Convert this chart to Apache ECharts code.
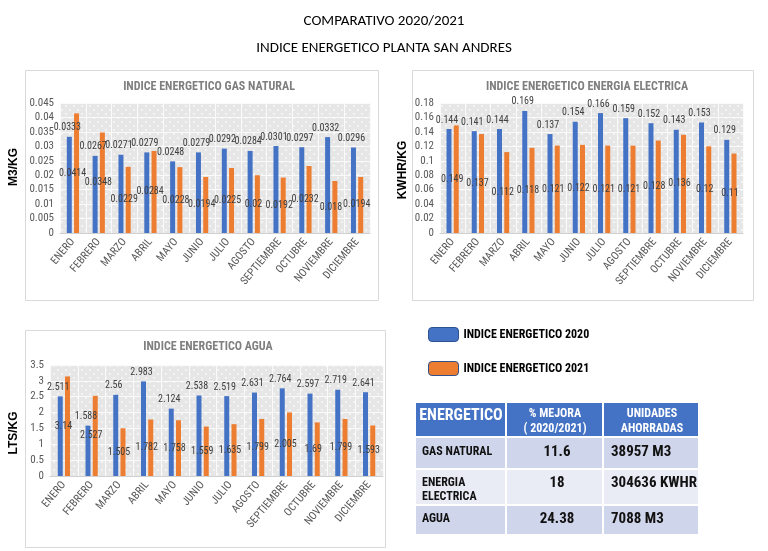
<!DOCTYPE html>
<html><head><meta charset="utf-8">
<script src="https://cdn.jsdelivr.net/npm/echarts@6/dist/echarts.min.js"></script>
<style>html,body{margin:0;padding:0;background:#fff}#c{width:768px;height:551px}</style>
</head><body><div id="c"></div>
<script>
const months = ['ENERO','FEBRERO','MARZO','ABRIL','MAYO','JUNIO','JULIO','AGOSTO','SEPTIEMBRE','OCTUBRE','NOVIEMBRE','DICIEMBRE'];
const gas2020 = [0.0333,0.0267,0.0271,0.0279,0.0248,0.0279,0.0292,0.0284,0.0301,0.0297,0.0332,0.0296];
const gas2021 = [0.0414,0.0348,0.0229,0.0284,0.0228,0.0194,0.0225,0.02,0.0192,0.0232,0.018,0.0194];
const elec2020 = [0.144,0.141,0.144,0.169,0.137,0.154,0.166,0.159,0.152,0.143,0.153,0.129];
const elec2021 = [0.149,0.137,0.112,0.118,0.121,0.122,0.121,0.121,0.128,0.136,0.12,0.11];
const agua2020 = [2.511,1.588,2.56,2.983,2.124,2.538,2.519,2.631,2.764,2.597,2.719,2.641];
const agua2021 = [3.14,2.527,1.505,1.782,1.758,1.559,1.635,1.799,2.005,1.69,1.799,1.593];
const seriesNames = ['INDICE ENERGETICO 2020','INDICE ENERGETICO 2021'];
const tableHeader = ['ENERGETICO','% MEJORA\n( 2020/2021)','UNIDADES\nAHORRADAS'];
const tableEnergetico = ['GAS NATURAL','ENERGIA\nELECTRICA','AGUA'];
const tableMejora = ['11.6','18','24.38'];
const tableAhorro = ['38957 M3','304636 KWHR','7088 M3'];

const NARROW = "'Roboto Condensed','DejaVu Sans Condensed',sans-serif";
const BLUE = '#4472C4', ORANGE = '#ED7D31';

// checkered background pattern
const pc = document.createElement('canvas'); pc.width = 8; pc.height = 8;
const px = pc.getContext('2d');
px.fillStyle = '#E6E6E6'; px.fillRect(0,0,8,8);
px.fillStyle = '#F3F3F3'; px.fillRect(1,1,2,2); px.fillRect(5,5,2,2);
const pattern = {image: pc, repeat: 'repeat'};

const grids = [
  {left:60, top:103, width:310, height:130},
  {left:440, top:103, width:303, height:130},
  {left:50, top:365, width:333, height:111}
].map(g => Object.assign(g, {show:true, backgroundColor: pattern, borderWidth:0, containLabel:false}));

const yCfg = [{max:0.045, interval:0.005},{max:0.18, interval:0.02},{max:3.5, interval:0.5}];
const xAxes = grids.map((g,i) => ({
  type:'category', gridIndex:i, data:months,
  axisLine:{lineStyle:{color:'#D0D0D0'}}, axisTick:{show:false},
  splitLine:{show:true, lineStyle:{color:'#FAFAFA', width:1}},
  axisLabel:{rotate:50, interval:0, color:'#595959', fontSize:11, fontFamily:NARROW, margin:7}
}));
const yAxes = yCfg.map((c,i) => ({
  type:'value', gridIndex:i, min:0, max:c.max, interval:c.interval,
  axisLine:{show:false}, axisTick:{show:false},
  splitLine:{lineStyle:{color:'#FAFAFA', width:1}},
  axisLabel:{color:'#595959', fontSize:11, fontFamily:NARROW, margin:6}
}));

const dataSets = [[gas2020,gas2021],[elec2020,elec2021],[agua2020,agua2021]];
const series = [];
dataSets.forEach((pair,i) => {
  series.push({
    name: seriesNames[0], type:'bar', xAxisIndex:i, yAxisIndex:i, data: pair[0],
    barWidth:5, barGap:'45%', itemStyle:{color:BLUE},
    label:{show:true, position:'top', distance:4, offset:[-2,0], color:'#404040', fontSize:10, fontFamily:NARROW}
  });
  series.push({
    name: seriesNames[1], type:'bar', xAxisIndex:i, yAxisIndex:i, data: pair[1],
    barWidth:5, barGap:'45%', itemStyle:{color:ORANGE},
    label:{show:true, position:'inside', offset:[-4,0], color:'#404040', fontSize:10, fontFamily:NARROW}
  });
});

const graphic = [];
[[25,70,353,230],[412,70,341,230],[25,330,360,217]].forEach(b => {
  graphic.push({type:'rect', shape:{x:b[0]+0.5,y:b[1]+0.5,width:b[2],height:b[3]}, style:{fill:'none', stroke:'#D9D9D9', lineWidth:1}, z:-10});
});
[['M3/KG',14,167],['KWHR/KG',403,170],['LTS/KG',14,433]].forEach(n => {
  graphic.push({type:'text', x:n[1], y:n[2], rotation:Math.PI/2,
    style:{text:n[0], fill:'#000', font:"bold 12px 'Liberation Sans', Arial, sans-serif", textAlign:'center', textVerticalAlign:'middle'}});
});
const tx = [416,507,604,700];
const ty = [403,438,470,506,536];
const rowFill = ['#CFD5EA','#E9EBF5','#CFD5EA'];
for (let c=0;c<3;c++){
  graphic.push({type:'rect', shape:{x:tx[c],y:ty[0],width:tx[c+1]-tx[c]-2,height:ty[1]-ty[0]-2}, style:{fill:BLUE}});
  for (let r=0;r<3;r++){
    graphic.push({type:'rect', shape:{x:tx[c],y:ty[r+1],width:tx[c+1]-tx[c]-2,height:ty[r+2]-ty[r+1]-2}, style:{fill:rowFill[r]}});
  }
}
const BOLD = "bold 15px " + NARROW;
const BOLDS = "bold 12px " + NARROW;
graphic.push({type:'text', x:461, y:416, style:{text:tableHeader[0], fill:'#fff', font:"bold 16px "+NARROW, textAlign:'center', textVerticalAlign:'middle'}});
graphic.push({type:'text', x:555, y:421, style:{text:tableHeader[1], fill:'#fff', font:BOLDS, textAlign:'center', textVerticalAlign:'middle', lineHeight:15}});
graphic.push({type:'text', x:652, y:421, style:{text:tableHeader[2], fill:'#fff', font:BOLDS, textAlign:'center', textVerticalAlign:'middle', lineHeight:15}});
const rowY = [452,483,519];
for (let r=0;r<3;r++){
  const multi = tableEnergetico[r].indexOf('\n')>=0;
  graphic.push({type:'text', x:422, y: multi? 490: rowY[r], style:{text:tableEnergetico[r], fill:'#111', font:BOLDS, textAlign:'left', textVerticalAlign:'middle', lineHeight:14}});
  graphic.push({type:'text', x:557, y:rowY[r], style:{text:tableMejora[r], fill:'#111', font:BOLD, textAlign:'center', textVerticalAlign:'middle'}});
  graphic.push({type:'text', x:611, y:rowY[r], style:{text:tableAhorro[r], fill:'#111', font:BOLD, textAlign:'left', textVerticalAlign:'middle'}});
}

const chart = echarts.init(document.getElementById('c'), null, {renderer:'canvas'});
chart.setOption({
  animation:false,
  backgroundColor:'#fff',
  title:[
    {text:'COMPARATIVO 2020/2021', left:'center', top:9, textStyle:{fontSize:15, fontWeight:'normal', color:'#000', fontFamily:"Carlito, Lato, sans-serif"}},
    {text:'INDICE ENERGETICO PLANTA SAN ANDRES', left:'center', top:36, textStyle:{fontSize:15, fontWeight:'normal', color:'#000', fontFamily:"Carlito, Lato, sans-serif"}},
    {text:'INDICE ENERGETICO GAS NATURAL', left:204, textAlign:'center', top:76, textStyle:{fontSize:12, fontWeight:'bold', color:'#7F7F7F', fontFamily:NARROW}},
    {text:'INDICE ENERGETICO ENERGIA ELECTRICA', left:582, textAlign:'center', top:76, textStyle:{fontSize:12, fontWeight:'bold', color:'#7F7F7F', fontFamily:NARROW}},
    {text:'INDICE ENERGETICO AGUA', left:203, textAlign:'center', top:336, textStyle:{fontSize:12, fontWeight:'bold', color:'#7F7F7F', fontFamily:NARROW}}
  ],
  legend:{orient:'vertical', left:423, top:322, itemWidth:30, itemHeight:14, itemGap:19,
    icon:'roundRect', data:seriesNames,
    itemStyle:{borderColor:'#2F528F', borderWidth:1},
    textStyle:{fontSize:12, fontWeight:'bold', color:'#000', fontFamily:NARROW}},
  grid:grids, xAxis:xAxes, yAxis:yAxes, series:series, graphic:graphic
});
</script></body></html>
